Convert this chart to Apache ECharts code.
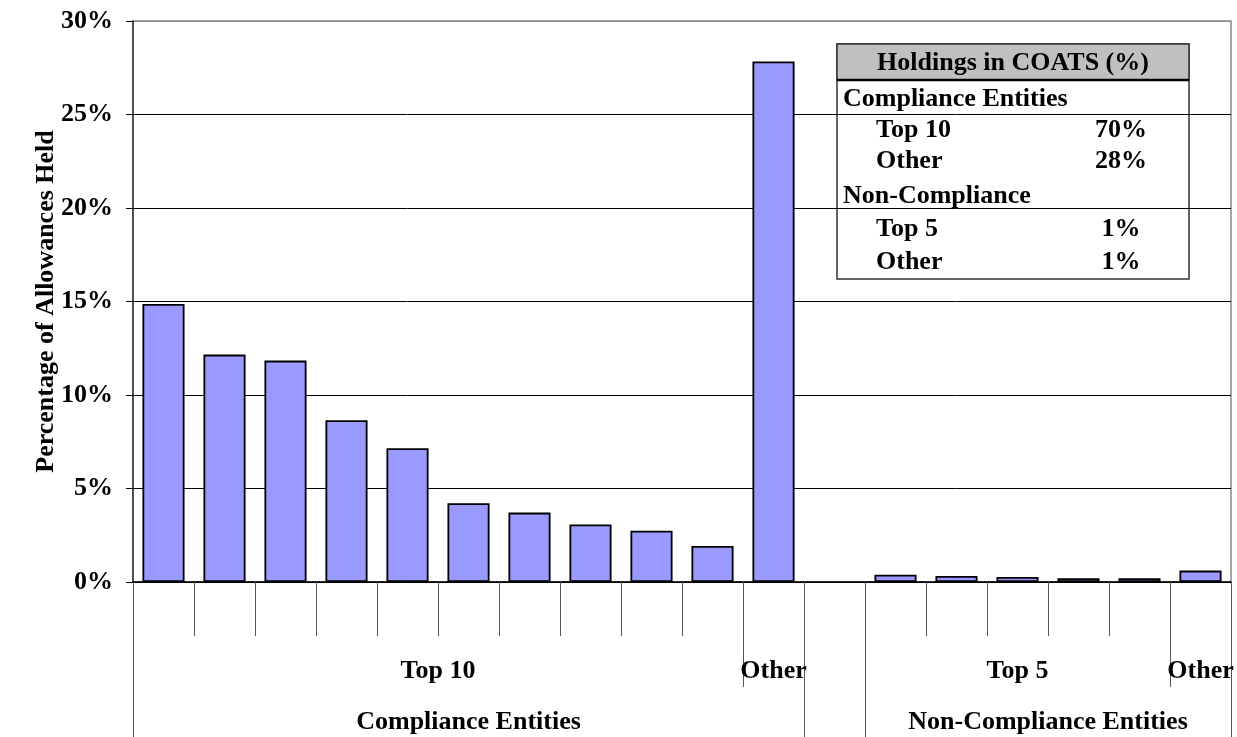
<!DOCTYPE html>
<html><head><meta charset="utf-8">
<script src="https://cdn.jsdelivr.net/npm/echarts@6/dist/echarts.min.js"></script>
<style>html,body{margin:0;padding:0;background:#fff}#c{width:1237px;height:737px}</style>
</head><body><div id="c"></div>
<script>
// ---- data ----
const categories = ['C1','C2','C3','C4','C5','C6','C7','C8','C9','C10','C Other','Gap','N1','N2','N3','N4','N5','N Other'];
const values = [14.87, 12.16, 11.84, 8.65, 7.15, 4.21, 3.71, 3.08, 2.74, 1.93, 27.84, null, 0.39, 0.32, 0.27, 0.20, 0.20, 0.61];
const yTickValues = [0, 5, 10, 15, 20, 25, 30];
const tierGroups = [['Top 10', 10], ['Other', 1], ['', 1], ['Top 5', 5], ['Other', 1]];
const entityGroups = [['Compliance Entities', 11], ['', 1], ['Non-Compliance Entities', 6]];
const yAxisTitle = 'Percentage of Allowances Held';
const tableTitle = 'Holdings in COATS (%)';
const tableRows = [
  ['Compliance Entities', '', 0],
  ['Top 10', '70%', 1],
  ['Other', '28%', 1],
  ['Non-Compliance', '', 0],
  ['Top 5', '1%', 1],
  ['Other', '1%', 1]
];

// ---- helpers ----
function groupInfo(groups) {
  const bounds = [0], centers = [], labels = {};
  let acc = 0;
  groups.forEach(([name, n]) => {
    const c = acc + n / 2;
    acc += n;
    bounds.push(acc);
    if (name) { centers.push(c); labels[c] = name; }
  });
  return { bounds, centers, labels };
}
const tier = groupInfo(tierGroups);
const ent = groupInfo(entityGroups);

const FONT = "'Liberation Serif', 'Times New Roman', serif";
const FS = 26;
const txt = { fontFamily: FONT, fontWeight: 'bold', fontSize: FS, color: '#000' };

const chart = echarts.init(document.getElementById('c'), null, { renderer: 'canvas' });

// table graphic
const TX = 837, TY = 44, TW = 352, TH = 235, HH = 36;
const rowY = [99, 130, 161, 196, 229, 262];
const tableEls = [
  { type: 'rect', shape: { x: TX, y: TY, width: TW, height: TH }, style: { fill: '#fff', stroke: '#333', lineWidth: 1.5 } },
  { type: 'rect', shape: { x: TX, y: TY, width: TW, height: HH }, style: { fill: '#C0C0C0', stroke: '#333', lineWidth: 1.5 } },
  { type: 'line', shape: { x1: TX, y1: TY + HH, x2: TX + TW, y2: TY + HH }, style: { stroke: '#000', lineWidth: 2.5 } },
  { type: 'text', x: TX + TW / 2, y: TY + HH / 2 + 1, style: { text: tableTitle, font: 'bold ' + FS + 'px ' + FONT, fill: '#000', textAlign: 'center', textVerticalAlign: 'middle' } }
];
tableRows.forEach((r, i) => {
  tableEls.push({ type: 'text', x: r[2] ? 876 : 843, y: rowY[i], style: { text: r[0], font: 'bold ' + FS + 'px ' + FONT, fill: '#000', textAlign: 'left', textVerticalAlign: 'middle' } });
  if (r[1]) tableEls.push({ type: 'text', x: 1121, y: rowY[i], style: { text: r[1], font: 'bold ' + FS + 'px ' + FONT, fill: '#000', textAlign: 'center', textVerticalAlign: 'middle' } });
});

const option = {
  animation: false,
  backgroundColor: '#fff',
  grid: { left: 133, right: 6, top: 21, bottom: 155, show: true, borderColor: '#888', borderWidth: 1.5, backgroundColor: 'transparent' },
  xAxis: [
    {
      type: 'category', data: categories, gridIndex: 0,
      axisLine: { show: true, lineStyle: { color: '#000', width: 1.5 } },
      axisTick: { show: true, interval: 0, length: 54, lineStyle: { color: '#555', width: 1 } },
      axisLabel: { show: false },
      splitLine: { show: false }
    },
    {
      type: 'value', min: 0, max: 18, offset: 54, gridIndex: 0, position: 'bottom',
      axisLine: { show: false },
      splitLine: { show: false },
      axisTick: { show: true, length: 51, customValues: tier.bounds, lineStyle: { color: '#555', width: 1 } },
      axisLabel: Object.assign({ show: true, customValues: tier.centers, margin: 22, verticalAlign: 'top', formatter: v => tier.labels[v] || '' }, txt)
    },
    {
      type: 'value', min: 0, max: 18, offset: 105, gridIndex: 0, position: 'bottom',
      axisLine: { show: false },
      splitLine: { show: false },
      axisTick: { show: true, length: 50, customValues: ent.bounds, lineStyle: { color: '#555', width: 1 } },
      axisLabel: Object.assign({ show: true, customValues: ent.centers, margin: 22, verticalAlign: 'top', formatter: v => ent.labels[v] || '' }, txt)
    }
  ],
  yAxis: {
    type: 'value', min: yTickValues[0], max: yTickValues[yTickValues.length - 1], interval: 5,
    name: yAxisTitle, nameLocation: 'middle', nameRotate: 90, nameGap: 74, nameMoveOverlap: false,
    nameTextStyle: txt,
    axisLine: { show: true, lineStyle: { color: '#333', width: 1.5 } },
    axisTick: { show: true, length: 7, lineStyle: { color: '#000' } },
    axisLabel: Object.assign({ margin: 20, formatter: '{value}%' }, txt),
    splitLine: { show: true, lineStyle: { color: ['#000', '#000', '#000', '#000', '#000', '#000', '#888'], width: 1 } }
  },
  series: [{
    type: 'bar', xAxisIndex: 0, data: values,
    barCategoryGap: '31%',
    itemStyle: { color: '#9999FF', borderColor: '#000', borderWidth: 1.8 },
    z: 3
  }],
  graphic: [{ type: 'group', z: 100, children: tableEls }]
};
chart.setOption(option);
</script>
</body></html>
